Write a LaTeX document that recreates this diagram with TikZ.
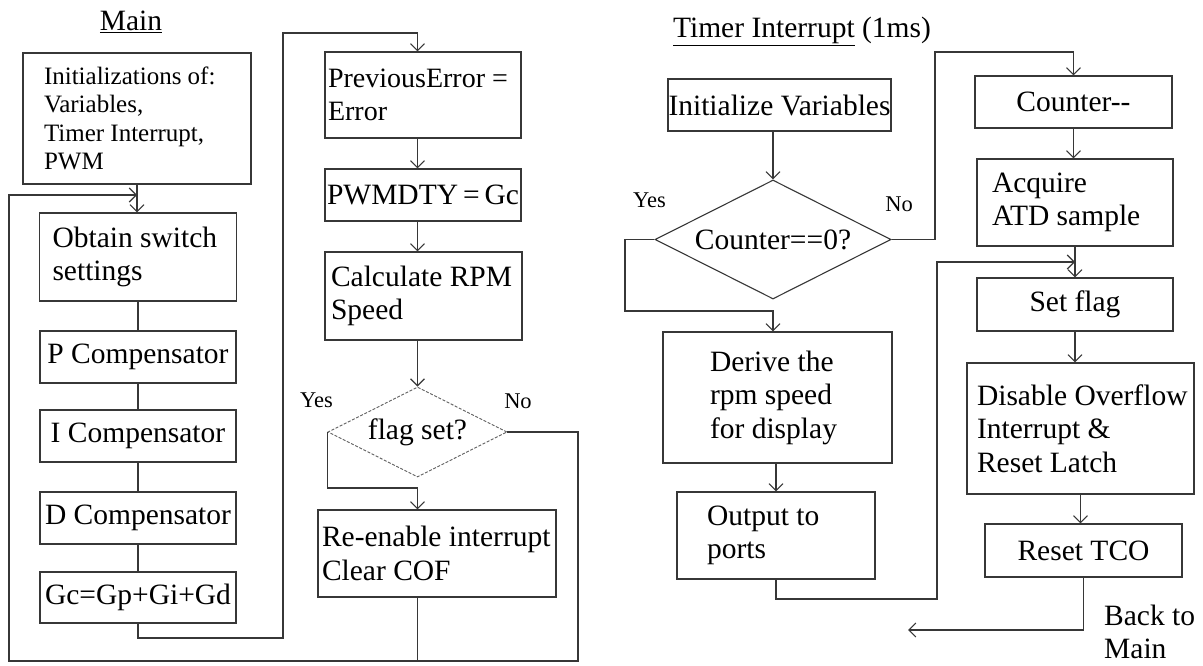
\documentclass[tikz,border=0pt]{standalone}
\usepackage{fontspec}
\setmainfont{Liberation Serif}
\usetikzlibrary{arrows.meta,shapes.geometric}

\definecolor{linec}{RGB}{55,55,55}
\definecolor{dashc}{RGB}{95,95,95}
\newcommand\bodyfont{\fontsize{29.5}{33.5}\selectfont}
\newcommand\prevfont{\fontsize{28}{32.4}\selectfont}
\newcommand\initfont{\fontsize{25}{28.3}\selectfont}
\newcommand\labfont{\fontsize{22.5}{26}\selectfont}

\tikzset{
  conn/.style={draw=linec, line width=1.1pt},
  arr/.style={conn, -{Straight Barb[length=7pt,width=14pt]}},
  box/.style={draw=linec, line width=1.1pt, rectangle, inner sep=0pt,
              font=\bodyfont, align=flush center, text=black},
  lbox/.style={box, align=flush left},
  decision/.style={diamond, aspect=2, draw=linec, line width=1.1pt, inner sep=0pt,
                   font=\bodyfont, align=flush center, text=black},
  dashdecision/.style={decision, draw=dashc, line width=0.9pt,
                       dash pattern=on 3pt off 1.6pt},
  lab/.style={font=\labfont, inner sep=0pt, text=black},
  heading/.style={font=\bodyfont, inner sep=0pt, text=black},
}

\begin{document}
\begin{tikzpicture}[x=1pt,y=-1pt]
\fill[white] (0,0) rectangle (1203,666);
\useasboundingbox (0,0) rectangle (1203,666);

% ---------------- Main loop ----------------
\node[heading, anchor=base] (tmain) at (131,31) {\underline{Main}};

\node[lbox, font=\initfont, text width=186pt, inner xsep=21pt, minimum height=131pt]
  (init) at (137,118.5) {Initializations of:\\Variables,\\Timer Interrupt,\\PWM};
\node[lbox, text width=171pt, inner xsep=13pt, minimum height=88pt]
  (obtain) at (138,257) {Obtain switch\\settings};
\node[box, minimum width=196pt, minimum height=52pt] (pc) at (138,357) {P Compensator};
\node[box, minimum width=196pt, minimum height=52pt] (ic) at (138,436) {I Compensator};
\node[box, minimum width=196pt, minimum height=52pt] (dc) at (138,518) {D Compensator};
\node[box, minimum width=196pt, minimum height=51pt] (gc) at (138,597.5) {Gc=Gp+Gi+Gd};

\node[lbox, font=\prevfont, text width=190pt, inner xsep=3pt, minimum height=86pt]
  (prev) at (423,95) {\mbox{PreviousError =}\\Error};
\node[box, minimum width=196pt, minimum height=52pt] (pwm) at (423,195) {PWMDTY{\,}={\,}Gc};
\node[lbox, text width=185pt, inner xsep=6pt, minimum height=88pt]
  (calc) at (423.5,296) {Calculate RPM\\Speed};
\node[dashdecision, minimum width=179pt, minimum height=90pt] (flag) at (417.5,432) {flag set?};
\node[lbox, text width=230pt, inner xsep=4pt, minimum height=87pt]
  (reen) at (437,553.5) {\mbox{Re-enable interrupt}\\Clear COF};

\node[lab] (fyes) at (316.5,400) {Yes};
\node[lab] (fno) at (518,401) {No};

\coordinate (jn) at (137,195);
\coordinate (busL) at (9,661);
\coordinate (busR) at (578,661);
\coordinate (busM) at (417.5,661);
\coordinate (lpA) at (283,638);
\coordinate (lpB) at (283,33);
\coordinate (yb) at (417.5,488);

\draw[arr] (init.south -| jn) -- (obtain.north -| jn);
\draw[conn] (obtain.south) -- (pc.north);
\draw[conn] (pc.south) -- (ic.north);
\draw[conn] (ic.south) -- (dc.north);
\draw[conn] (dc.south) -- (gc.north);
\draw[arr] (gc.south) |- (lpA) -- (lpB) -| (prev.north -| flag);
\draw[arr] (prev.south -| flag) -- (pwm.north -| flag);
\draw[arr] (pwm.south -| flag) -- (calc.north -| flag);
\draw[arr] (calc.south -| flag) -- (flag.north);
\draw[arr] (flag.west) |- (yb) -- (reen.north -| yb);
\draw[conn] (reen.south -| busM) -- (busM);
\draw[arr] (flag.east) -| (busR) -- (busL) |- (jn);

% ---------------- Timer interrupt ----------------
\node[heading, anchor=base] (ttimer) at (802,38) {\underline{Timer Interrupt} (1ms)};

\node[box, minimum width=223pt, minimum height=52pt] (initv) at (779.5,105) {Initialize Variables};
\node[decision, minimum width=236pt, minimum height=119pt] (cdiam) at (773,239.5) {Counter==0?};
\node[lbox, text width=135pt, inner xsep=47pt, minimum height=131pt]
  (derive) at (777.5,397.5) {Derive the\\rpm speed\\for display};
\node[lbox, text width=138pt, inner xsep=30pt, minimum height=87pt]
  (output) at (776,535.5) {Output to\\ports};

\node[box, minimum width=197pt, minimum height=52pt] (counter) at (1073.5,102) {Counter-{}-};
\node[lbox, text width=166pt, inner xsep=15pt, minimum height=87pt]
  (acquire) at (1075,202.5) {Acquire\\ATD sample};
\node[box, minimum width=196pt, minimum height=53pt] (setflag) at (1075,304.5) {Set flag};
\node[lbox, text width=207pt, inner xsep=10pt, minimum height=131pt]
  (disable) at (1080.5,428.5) {\mbox{Disable Overflow}\\Interrupt \&\\Reset Latch};
\node[box, minimum width=197pt, minimum height=53pt] (reset) at (1083.5,550.5) {Reset TCO};

\node[lab] (cyes) at (649.5,200) {Yes};
\node[lab] (cno) at (899,204) {No};
\node[heading, anchor=west, align=flush left, font=\fontsize{29.5}{32.5}\selectfont]
  (back) at (1104,632) {Back to\\Main};

\coordinate (ya) at (625,311);
\coordinate (na) at (935,52);
\coordinate (ob) at (937,599);
\coordinate (oc) at (937,262);
\coordinate (rb) at (908,630);

\draw[arr] (initv.south -| cdiam) -- (cdiam.north);
\draw[arr] (cdiam.west) -| (ya) -| (derive.north -| cdiam);
\draw[arr] (derive.south -| output) -- (output.north);
\draw[arr] (output.south) |- (ob) -- (oc) -- (oc -| setflag);
\draw[arr] (cdiam.east) -| (na) -| (counter.north);
\draw[arr] (counter.south) -- (counter.south |- acquire.north);
\draw[arr] (acquire.south) -- (acquire.south |- setflag.north);
\draw[arr] (setflag.south) -- (setflag.south |- disable.north);
\draw[arr] (disable.south) -- (disable.south |- reset.north);
\draw[arr] (reset.south) |- (rb);
\end{tikzpicture}
\end{document}
